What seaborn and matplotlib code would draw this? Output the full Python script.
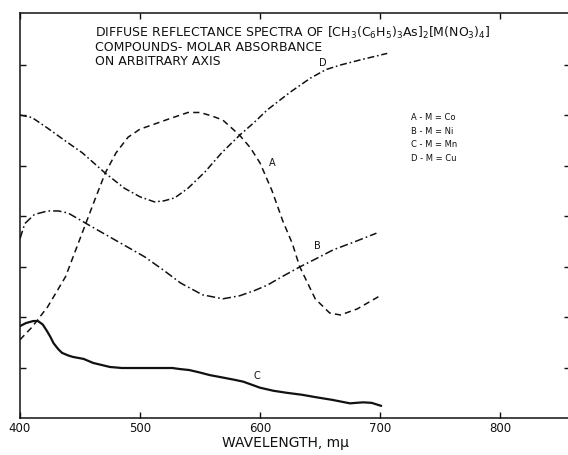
import pandas as pd
import seaborn as sns
import matplotlib.pyplot as plt

# curve A  M = Co  (dashed)
a_nm = [400, 410, 423, 438, 446, 454, 462, 471, 480, 490, 500, 512, 525, 540, 550,
        560, 569, 583, 592, 600, 610, 619, 627, 633, 646, 658, 667, 681, 700]
a_val = [1.55, 1.8, 2.2, 2.8, 3.3, 3.8, 4.3, 4.85, 5.25, 5.56, 5.72, 5.82, 5.93, 6.05, 6.05,
         5.98, 5.9, 5.6, 5.35, 5.05, 4.5, 3.9, 3.45, 3.0, 2.36, 2.08, 2.04, 2.16, 2.42]

# curve B  M = Ni  (dash-dot)
b_nm = [400, 404, 412, 423, 432, 440, 456, 470, 487, 504, 520, 534, 552, 569, 583,
        595, 606, 620, 633, 648, 661, 680, 697]
b_val = [3.55, 3.85, 4.03, 4.1, 4.1, 4.06, 3.84, 3.65, 3.42, 3.19, 2.92, 2.67, 2.44, 2.36, 2.42,
         2.52, 2.63, 2.82, 2.99, 3.17, 3.33, 3.5, 3.66]

# curve C  M = Mn  (solid)
c_nm = [400, 405, 411, 415, 419, 422, 425, 428, 432, 435, 440, 444, 453, 461, 468, 475,
        485, 494, 505, 517, 527, 533, 541, 550, 558, 567, 578, 586, 593, 600, 611, 622,
        635, 647, 660, 675, 680, 686, 693, 701]
c_val = [1.82, 1.88, 1.92, 1.92, 1.85, 1.74, 1.62, 1.48, 1.36, 1.29, 1.24, 1.21, 1.17, 1.09, 1.05, 1.01,
         0.99, 0.99, 0.99, 0.99, 0.99, 0.97, 0.95, 0.9, 0.85, 0.81, 0.76, 0.72, 0.66, 0.6, 0.54, 0.5,
         0.46, 0.41, 0.36, 0.29, 0.3, 0.31, 0.3, 0.24]

# curve D  M = Cu  (dash-dot)
d_nm = [400, 410, 423, 437, 452, 471, 487, 500, 512, 520, 529, 540, 554, 568, 583,
        595, 606, 625, 642, 655, 667, 685, 706]
d_val = [6.0, 5.95, 5.74, 5.5, 5.25, 4.85, 4.55, 4.38, 4.28, 4.3, 4.36, 4.55, 4.87, 5.25, 5.6,
         5.85, 6.1, 6.45, 6.73, 6.9, 6.99, 7.1, 7.22]

x_ticks = [400, 500, 600, 700, 800]
legend_lines = ["A - M = Co", "B - M = Ni", "C - M = Mn", "D - M = Cu"]

sns.set_style("ticks")
plt.rcParams['font.family'] = ['DejaVu Sans']
plt.rcParams['mathtext.fontset'] = 'dejavusans'
plt.rcParams['lines.scale_dashes'] = False

fig = plt.figure(figsize=(5.68, 4.55), dpi=100)
ax = fig.add_axes([20/568, 37/455, 550/568, 405/455])

ink = "#111111"
sns.lineplot(x=a_nm, y=a_val, ax=ax, color=ink, linewidth=1.1, sort=False)
ax.lines[-1].set_dashes((4.5, 3))
sns.lineplot(x=b_nm, y=b_val, ax=ax, color=ink, linewidth=1.1, sort=False)
ax.lines[-1].set_dashes((6, 2.2, 1.2, 2.2))
sns.lineplot(x=c_nm, y=c_val, ax=ax, color=ink, linewidth=1.6, sort=False)
sns.lineplot(x=d_nm, y=d_val, ax=ax, color=ink, linewidth=1.1, sort=False)
ax.lines[-1].set_dashes((5, 2, 1.2, 2))

ax.set_xlim(400, 858.3)
ax.set_ylim(0, 8.02)
ax.set_xticks(x_ticks)
ax.set_xticklabels([str(t) for t in x_ticks], fontsize=8.5)
ax.set_yticks(range(1, 8))
ax.set_yticklabels([])
ax.tick_params(direction="in", length=4, width=1, colors=ink, top=True, right=True, pad=3)
for s in ["left", "bottom", "top"]:
    ax.spines[s].set_linewidth(1.1)
    ax.spines[s].set_color(ink)
ax.spines["right"].set_visible(False)

ax.set_xlabel("WAVELENGTH, m\u03bc", fontsize=10, color=ink, labelpad=1)
ax.xaxis.set_label_coords(0.482, -0.045)

title = [r"DIFFUSE REFLECTANCE SPECTRA OF $\left[\mathsf{CH_3(C_6H_5)_3As}\right]_2\left[\mathsf{M(NO_3)_4}\right]$",
         "COMPOUNDS- MOLAR ABSORBANCE",
         "ON ARBITRARY AXIS"]
for txt, yv in zip(title, [7.62, 7.33, 7.05]):
    ax.text(462.5, yv, txt, fontsize=9, color=ink, ha="left", va="center")

for txt, yv in zip(legend_lines, [5.96, 5.68, 5.41, 5.13]):
    ax.text(726, yv, txt, fontsize=6, color=ink, ha="left", va="center")

# curve letters
ax.text(610, 5.05, "A", fontsize=7, color=ink, ha="center", va="center")
ax.text(648, 3.4, "B", fontsize=7, color=ink, ha="center", va="center")
ax.text(597, 0.83, "C", fontsize=7, color=ink, ha="center", va="center")
ax.text(652, 7.03, "D", fontsize=7, color=ink, ha="center", va="center")

fig.savefig("out.png", dpi=100)
